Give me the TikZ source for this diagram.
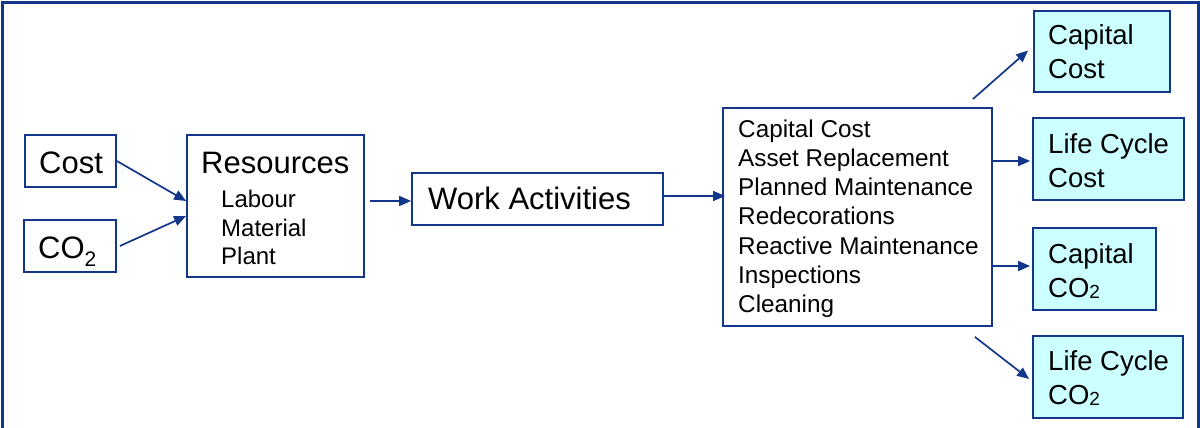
\documentclass[tikz,border=0pt]{standalone}
\usepackage{fontspec}
\setmainfont{Liberation Sans}
\usetikzlibrary{arrows.meta}
\definecolor{navy}{RGB}{18,54,138}
\definecolor{paleaqua}{RGB}{204,255,255}
\begin{document}
\begin{tikzpicture}[x=1pt,y=-1pt,
  box/.style={draw=navy,line width=1.8pt,inner sep=0pt,anchor=center},
  outbox/.style={box,fill=paleaqua},
  txt/.style={anchor=base west,inner sep=0pt,text=black},
  big/.style={txt,font=\fontsize{31}{37}\selectfont},
  small/.style={txt,font=\fontsize{24}{29}\selectfont},
  listtxt/.style={txt,font=\fontsize{24.3}{29}\selectfont},
  res/.style={txt,font=\fontsize{27.5}{33}\selectfont},
  arr/.style={draw=navy,line width=1.7pt,-{Triangle[length=12pt,width=10pt]}}]
\useasboundingbox (0,0) rectangle (1200,428);
% open frame round the whole diagram
\draw[navy,line width=2.2pt] (2.5,428) -- (2.5,2.5) -- (1198.5,2.5) -- (1198.5,428);

% input boxes
\node[box,minimum width=91pt,minimum height=52pt] (cost) at (70.5,161) {};
\node[box,minimum width=92pt,minimum height=52pt] (co) at (70,246) {};
\node[big] (costt) at (39,173) {Cost};
\node[big] (cot) at (38,258) {CO\raisebox{-8pt}{\fontsize{21}{21}\selectfont 2}};

% resources
\node[box,minimum width=177pt,minimum height=142pt] (res) at (275.5,206) {};
\node[big] (rest) at (201,173) {Resources};
\node[small] (r1) at (221,207) {Labour};
\node[small] (r2) at (221,236) {Material};
\node[small] (r3) at (221,264) {Plant};

% work activities
\node[box,minimum width=251pt,minimum height=52pt] (wa) at (537.5,199) {};
\node[big] (wat) at (428,209) {Work Activities};

% activity list
\node[box,minimum width=269pt,minimum height=218pt] (list) at (857.5,217) {};
\foreach \t [count=\i] in {Capital Cost,Asset Replacement,Planned Maintenance,Redecorations,Reactive Maintenance,Inspections,Cleaning}
  \node[listtxt] (li\i) at (738,{137+29.3*(\i-1)}) {\t};

% results
\node[outbox,minimum width=136pt,minimum height=81pt] (cc) at (1102,51.5) {};
\node[outbox,minimum width=151pt,minimum height=82pt] (lcc) at (1108.5,159) {};
\node[outbox,minimum width=123pt,minimum height=82pt] (cco) at (1094.5,269) {};
\node[outbox,minimum width=150pt,minimum height=82pt] (lco) at (1108,377) {};
\node[res] (cc1) at (1048,45) {Capital};
\node[res] (cc2) at (1048,79) {Cost};
\node[res] (lcc1) at (1048,153) {Life Cycle};
\node[res] (lcc2) at (1048,187) {Cost};
\node[res] (cco1) at (1048,263) {Capital};
\node[res] (cco2) at (1048,297) {CO\raisebox{-1.5pt}{\fontsize{19}{19}\selectfont 2}};
\node[res] (lco1) at (1048,370) {Life Cycle};
\node[res] (lco2) at (1048,404) {CO\raisebox{-1.5pt}{\fontsize{19}{19}\selectfont 2}};

% connectors
\draw[arr] (cost.east) -- ([yshift=5pt]res.west);
\draw[arr] ([xshift=3pt]co.east) -- ([yshift=-10pt]res.west);
\draw[arr] ([xshift=5pt,yshift=5pt]res.east) -- ([yshift=-2pt]wa.west);
\draw[arr] ([xshift=-2pt,yshift=3pt]wa.east) -- ([xshift=3pt,yshift=21pt]list.west);
\draw[arr] ([xshift=-20pt,yshift=8pt]list.north east) -- ([xshift=-5pt,yshift=1pt]cc.west);
\draw[arr] ([xshift=-2pt,yshift=56pt]list.east) -- ([xshift=-2pt,yshift=-2pt]lcc.west);
\draw[arr] ([xshift=-2pt,yshift=-49pt]list.east) -- ([xshift=-2pt,yshift=3pt]cco.west);
\draw[arr] ([xshift=-18pt,yshift=-10pt]list.south east) -- ([xshift=-3pt,yshift=-2pt]lco.west);
\end{tikzpicture}
\end{document}
